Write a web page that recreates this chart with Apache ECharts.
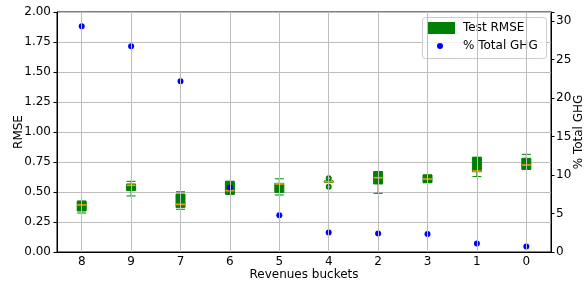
<!DOCTYPE html>
<html>
<head>
<meta charset="utf-8">
<script src="https://cdn.jsdelivr.net/npm/echarts@6/dist/echarts.min.js"></script>
<style>
  html, body { margin: 0; padding: 0; background: #fff; }
  #chart { width: 587px; height: 286px; }
</style>
</head>
<body>
<div id="chart"></div>
<script>
// revenue buckets, in the order shown on the x axis
const categories = ['8', '9', '7', '6', '5', '4', '2', '3', '1', '0'];

// test RMSE box plot stats per bucket
const rmseMin    = [0.325, 0.467, 0.356, 0.480, 0.475, 0.580, 0.489, 0.578, 0.628, 0.689];
const rmseQ1     = [0.342, 0.511, 0.372, 0.483, 0.497, 0.582, 0.567, 0.578, 0.669, 0.689];
const rmseMedian = [0.392, 0.556, 0.397, 0.511, 0.567, 0.586, 0.619, 0.608, 0.675, 0.725];
const rmseQ3     = [0.422, 0.567, 0.483, 0.586, 0.572, 0.590, 0.669, 0.642, 0.789, 0.781];
const rmseMax    = [0.425, 0.589, 0.502, 0.590, 0.610, 0.592, 0.670, 0.642, 0.789, 0.814];
const rmseOutliers = [['4', 0.614], ['4', 0.544]];

// share of total GHG per bucket (right axis)
const ghgShare = [29.35, 26.75, 22.2, 8.37, 4.77, 2.52, 2.39, 2.34, 1.09, 0.7];

const rmseTicks = [0, 0.25, 0.5, 0.75, 1, 1.25, 1.5, 1.75, 2];
const ghgTicks = [0, 5, 10, 15, 20, 25, 30];

const font = 'DejaVu Sans';
let chartDom = document.getElementById('chart');
let myChart = echarts.init(chartDom);

let boxData = categories.map(function (c, i) {
  return [rmseMin[i], rmseQ1[i], rmseMedian[i], rmseQ3[i], rmseMax[i]];
});

let option = {
  animation: false,
  backgroundColor: '#fff',
  textStyle: { fontFamily: font },
  grid: {
    left: 57, right: 36, top: 12, bottom: 34,
    containLabel: false, outerBoundsMode: 'none',
    show: true, borderColor: '#000', borderWidth: 1, backgroundColor: 'transparent'
  },
  graphic: [{
    type: 'rect',
    left: 422, top: 17, z: 3,
    shape: { width: 124, height: 41, r: 3 },
    style: { fill: 'rgba(255,255,255,0.8)', stroke: '#cccccc', lineWidth: 1 }
  }],
  legend: [{
    left: 427, top: 21, padding: 0,
    itemWidth: 26, itemHeight: 10,
    data: [{ name: 'Test RMSE', icon: 'rect' }],
    textStyle: { fontFamily: font, fontSize: 12, color: '#000', lineHeight: 14, padding: [0, 0, 0, 4] }
  }, {
    left: 437, top: 39, padding: 0,
    itemWidth: 6, itemHeight: 6,
    data: [{ name: '% Total GHG', icon: 'circle' }],
    textStyle: { fontFamily: font, fontSize: 12, color: '#000', lineHeight: 14, padding: [0, 0, 0, 15] }
  }],
  xAxis: {
    type: 'category',
    data: categories,
    name: 'Revenues buckets',
    nameLocation: 'middle',
    nameGap: 17,
    nameMoveOverlap: false,
    nameTextStyle: { fontFamily: font, fontSize: 12, color: '#000' },
    axisLine: { lineStyle: { color: '#000', width: 1 } },
    axisTick: { alignWithLabel: true, length: 3.5, lineStyle: { color: '#000' } },
    axisLabel: { margin: 4, fontFamily: font, fontSize: 12, color: '#000' },
    splitLine: { show: false }
  },
  yAxis: [{
    type: 'value',
    min: rmseTicks[0], max: rmseTicks[rmseTicks.length - 1], interval: 0.25,
    name: 'RMSE',
    nameLocation: 'middle',
    nameGap: 32,
    nameMoveOverlap: false,
    nameTextStyle: { fontFamily: font, fontSize: 12, color: '#000' },
    axisLine: { show: true, lineStyle: { color: '#000', width: 1 } },
    axisTick: { show: true, length: 3.5, lineStyle: { color: '#000' } },
    axisLabel: {
      margin: 6, fontFamily: font, fontSize: 12, color: '#000',
      formatter: function (v) { return v.toFixed(2); }
    },
    splitLine: { show: true, lineStyle: { color: '#bdbdbd', width: 1 } }
  }, {
    type: 'value',
    min: ghgTicks[0], max: 31.2, interval: 5,
    name: '% Total GHG',
    nameLocation: 'middle',
    nameGap: 22,
    nameRotate: 90,
    nameMoveOverlap: false,
    nameTextStyle: { fontFamily: font, fontSize: 12, color: '#000' },
    axisLine: { show: true, lineStyle: { color: '#000', width: 1 } },
    axisTick: { show: true, length: 3.5, lineStyle: { color: '#000' } },
    axisLabel: {
      margin: 5, fontFamily: font, fontSize: 12, color: '#000',
      formatter: function (v) { return ghgTicks.indexOf(v) >= 0 ? String(v) : ''; }
    },
    splitLine: { show: false }
  }],
  series: [
    {
      // vertical grid lines at each bucket
      name: 'xgrid',
      type: 'line',
      data: [],
      z: 1,
      silent: true,
      markLine: {
        silent: true,
        symbol: ['none', 'none'],
        label: { show: false },
        lineStyle: { color: '#bdbdbd', width: 1, type: 'solid' },
        data: categories.map(function (c) { return { xAxis: c }; })
      }
    },
    {
      name: 'Test RMSE',
      type: 'boxplot',
      data: boxData,
      boxWidth: [9, 9],
      z: 2,
      itemStyle: { color: '#008000', borderColor: '#008000', borderWidth: 1 }
    },
    {
      name: 'median',
      type: 'scatter',
      data: rmseMedian,
      symbol: 'rect',
      symbolSize: [9, 1.6],
      z: 3,
      itemStyle: { color: '#ff9a00', opacity: 1 }
    },
    {
      name: 'outliers',
      type: 'scatter',
      data: rmseOutliers,
      symbol: 'emptyCircle',
      symbolSize: 4,
      z: 3,
      itemStyle: { color: '#008000', borderColor: '#008000', borderWidth: 1, opacity: 1 }
    },
    {
      name: '% Total GHG',
      type: 'scatter',
      yAxisIndex: 1,
      data: ghgShare,
      symbolSize: 6,
      z: 4,
      itemStyle: { color: '#0000ff', opacity: 1 }
    }
  ]
};
myChart.setOption(option);
</script>
</body>
</html>
